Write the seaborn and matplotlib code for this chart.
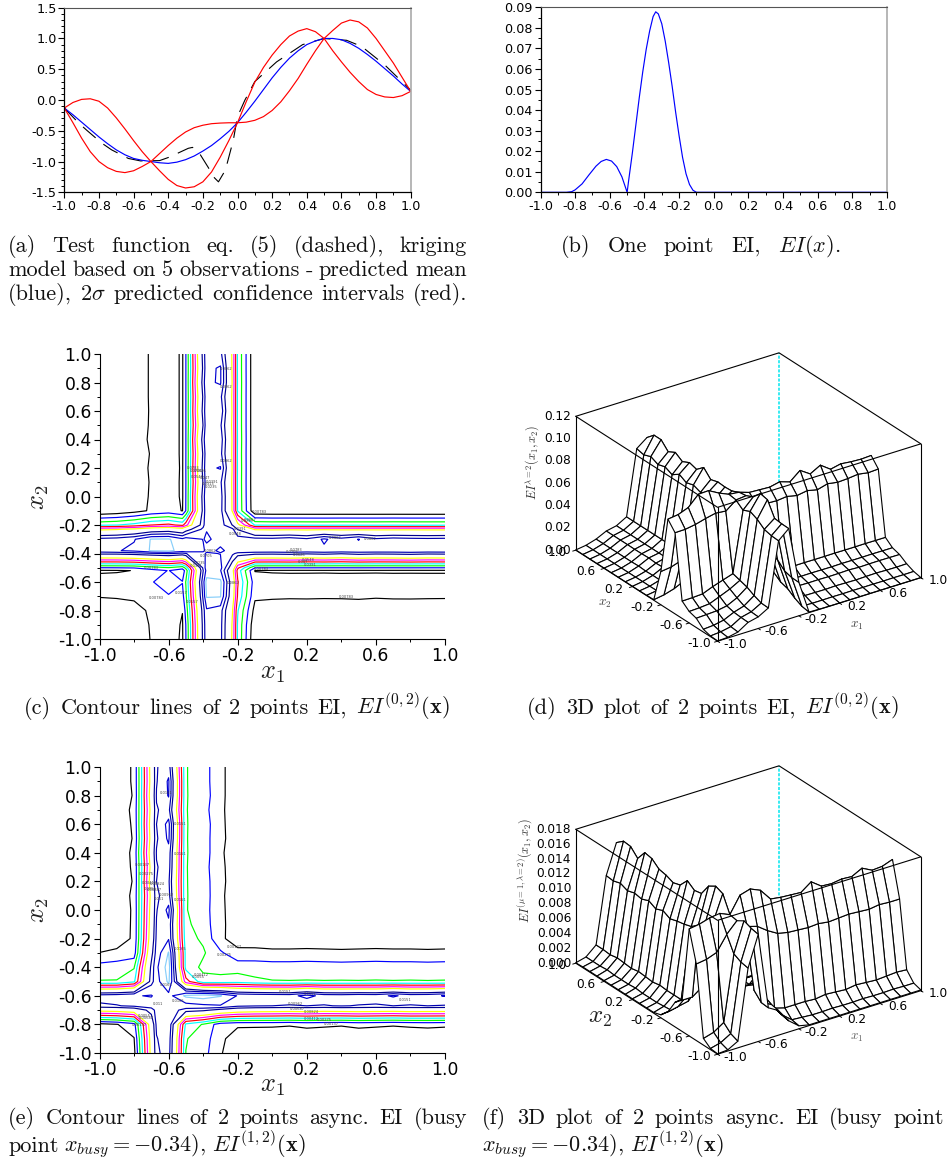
import numpy as np
import matplotlib
matplotlib.use('Agg')
import matplotlib.pyplot as plt
from mpl_toolkits.mplot3d import proj3d
import seaborn as sns

sns.set_theme(style='ticks')
plt.rcParams['font.family'] = ['DejaVu Sans']
plt.rcParams['mathtext.fontset'] = 'cm'

W, H = 949, 1164

# panel (a)
x_a = [-1.0, -0.95, -0.9, -0.85, -0.8, -0.75, -0.7, -0.65, -0.6, -0.55, -0.5, -0.45, -0.4, -0.35,
       -0.3, -0.25, -0.2, -0.15, -0.1, -0.05, 0.0, 0.05, 0.1, 0.15, 0.2, 0.25, 0.3, 0.35, 0.4, 0.45,
       0.5, 0.55, 0.6, 0.65, 0.7, 0.75, 0.8, 0.85, 0.9, 0.95, 1.0]
mean_a = [-0.13, -0.24, -0.36, -0.48, -0.60, -0.71, -0.81, -0.89, -0.95, -0.98, -1.0, -1.02, -1.03, -1.01,
          -0.97, -0.91, -0.83, -0.74, -0.63, -0.51, -0.37, -0.20, -0.02, 0.17, 0.36, 0.53, 0.68, 0.80, 0.90, 0.96,
          1.0, 1.0, 0.98, 0.92, 0.84, 0.74, 0.63, 0.51, 0.39, 0.26, 0.14]
upper_a = [-0.13, -0.04, 0.01, 0.02, -0.02, -0.13, -0.29, -0.47, -0.66, -0.84, -1.0, -0.87, -0.74, -0.62,
           -0.52, -0.45, -0.41, -0.385, -0.375, -0.37, -0.37, -0.03, 0.29, 0.53, 0.73, 0.90, 1.04, 1.12, 1.16, 1.11,
           1.0, 1.13, 1.25, 1.30, 1.27, 1.17, 1.0, 0.80, 0.60, 0.37, 0.14]
lower_a = [-0.13, -0.37, -0.62, -0.84, -1.0, -1.10, -1.16, -1.18, -1.15, -1.08, -1.0, -1.15, -1.29, -1.39,
           -1.43, -1.41, -1.33, -1.17, -0.93, -0.66, -0.37, -0.36, -0.33, -0.27, -0.17, -0.03, 0.15, 0.35, 0.58, 0.80,
           1.0, 0.80, 0.62, 0.45, 0.30, 0.17, 0.09, 0.05, 0.04, 0.07, 0.14]
x_test = [-1.0, -0.915, -0.867, -0.784, -0.727, -0.63, -0.56, -0.45, -0.395, -0.284, -0.26, -0.23, -0.168, -0.14,
          -0.11, -0.07, -0.024, 0.0, 0.043, 0.1, 0.226, 0.376, 0.5, 0.63, 0.717, 0.85, 1.0]
test_a = [-0.13, -0.38, -0.50, -0.70, -0.81, -0.95, -0.99, -0.985, -0.93, -0.785, -0.77, -0.82, -1.10, -1.245,
          -1.33, -1.14, -0.65, -0.27, 0.0, 0.30, 0.62, 0.90, 1.0, 0.97, 0.87, 0.57, 0.16]

# panel (b)
x_b = [-1.0, -0.9, -0.85, -0.82, -0.8, -0.76, -0.72, -0.68, -0.65, -0.62, -0.59, -0.56, -0.53, -0.51, -0.5,
       -0.49, -0.47, -0.45, -0.43, -0.41, -0.39, -0.37, -0.35, -0.335, -0.32, -0.3, -0.28, -0.26, -0.24, -0.22,
       -0.2, -0.18, -0.16, -0.14, -0.12, -0.1, 0.0, 0.5, 1.0]
ei_b = [0.0, 0.0, 0.0, 0.0003, 0.0012, 0.0041, 0.0085, 0.0127, 0.0150, 0.0160, 0.0152, 0.0125, 0.0075, 0.0025, 0.0,
        0.0065, 0.0190, 0.0325, 0.0460, 0.0585, 0.0695, 0.0785, 0.0855, 0.0878, 0.0868, 0.0820, 0.0735, 0.0630, 0.0515, 0.0390,
        0.0275, 0.0170, 0.0090, 0.0038, 0.0010, 0.0, 0.0, 0.0, 0.0]

tick_1d = [-1.0, -0.8, -0.6, -0.4, -0.2, 0.0, 0.2, 0.4, 0.6, 0.8, 1.0]
tick_1d_labels = ['-1.0', '-0.8', '-0.6', '-0.4', '-0.2', '0.0', '0.2', '0.4', '0.6', '0.8', '1.0']
minor_1d = [-0.9, -0.7, -0.5, -0.3, -0.1, 0.1, 0.3, 0.5, 0.7, 0.9]
ytick_a = [-1.5, -1.0, -0.5, 0.0, 0.5, 1.0, 1.5]
ytick_a_labels = ['-1.5', '-1.0', '-0.5', '0.0', '0.5', '1.0', '1.5']
yminor_a = [-1.4, -1.3, -1.2, -1.1, -0.9, -0.8, -0.7, -0.6, -0.4, -0.3, -0.2, -0.1,
            0.1, 0.2, 0.3, 0.4, 0.6, 0.7, 0.8, 0.9, 1.1, 1.2, 1.3, 1.4]
ytick_b = [0.0, 0.01, 0.02, 0.03, 0.04, 0.05, 0.06, 0.07, 0.08, 0.09]
ytick_b_labels = ['0.00', '0.01', '0.02', '0.03', '0.04', '0.05', '0.06', '0.07', '0.08', '0.09']
yminor_b = [0.005, 0.015, 0.025, 0.035, 0.045, 0.055, 0.065, 0.075, 0.085]

# panels (c) and (d): EI on the grid, in units of 0.001, rows from x2=-1 up to x2=1
nodes_c = [-1.0, -0.9, -0.8, -0.7, -0.6, -0.52, -0.5, -0.4, -0.38, -0.3, -0.23, -0.2,
           -0.1, 0.0, 0.1, 0.2, 0.3, 0.4, 0.5, 0.6, 0.7, 0.8, 0.9, 1.0]
levels_c = [7.83, 15.7, 23.5, 31.3, 39.1, 47.0, 54.8, 62.6, 70.5, 78.3, 86.2, 94.0]
grid_c = [
    [0.2, 0.6, 2.5, 8.3, 10.4, 7.0, 15.6, 73, 84, 81, 53, 30, 0.5, 0.2, 0.1, 0.1, 0.1, 0.1, 0.1, 0.1, 0.1, 0.1, 0.1, 0.1],
    [0.6, 1.4, 3.2, 8.6, 10.8, 7.2, 15.9, 73.4, 84.3, 81.2, 53.4, 30.2, 1.6, 1.4, 1.4, 1.5, 1.4, 1.5, 1.4, 1.5, 1.4, 1.5, 1.4, 1.5],
    [2.5, 3.2, 5.0, 9.2, 12.0, 8.0, 18.5, 75, 85, 82, 55, 32, 4.8, 4.3, 4.2, 4.1, 4.4, 4.2, 4.0, 4.3, 4.5, 4.2, 4.1, 4.3],
    [8.3, 8.7, 9.2, 10.8, 15.2, 13, 22, 80, 94.8, 94.6, 61, 38, 9.2, 8.8, 8.6, 8.7, 8.5, 8.6, 8.9, 8.4, 8.6, 8.7, 8.6, 8.5],
    [10.3, 10.7, 11.5, 15.2, 19, 16, 24, 83, 97, 96, 63, 40, 11.2, 10.7, 10.5, 10.6, 10.5, 10.4, 10.6, 10.5, 10.5, 10.6, 10.5, 10.5],
    [7.0, 7.2, 8.0, 12.5, 16, 11, 19, 78, 89, 87, 58, 36, 7.5, 7.1, 7.0, 7.0, 7.1, 7.0, 7.0, 7.1, 7.0, 7.0, 7.0, 7.0],
    [15.6, 15.8, 16.3, 20, 23, 19, 26, 80, 91, 89, 63, 41, 16, 15.8, 15.8, 15.9, 15.8, 15.8, 15.9, 15.8, 15.8, 15.9, 15.8, 15.8],
    [72.8, 73, 74.5, 77, 79, 76, 78, 85, 87, 86, 80, 76, 73.5, 73, 74, 72, 73.5, 71.5, 74, 72.5, 73, 74, 72.5, 73],
    [83.8, 85.5, 88.2, 94.8, 96, 91, 92, 87, 85, 86.8, 85, 84.5, 84.2, 84, 84.3, 83.8, 84.5, 84, 83.6, 84.2, 83.9, 84.4, 84, 84],
    [80.8, 82, 85.5, 94.6, 95, 88, 90, 86, 86.8, 85, 84, 82, 81.5, 81, 83, 80, 87.5, 81.5, 86.5, 80, 82, 81, 80.5, 81],
    [52.8, 54, 57, 62, 64, 60, 66, 80, 86, 84, 80, 70, 53.5, 53, 53.2, 52.9, 53.3, 53, 52.8, 53.1, 53, 53.2, 53, 53],
    [29.8, 31, 34, 39, 41, 37, 44, 76, 84.5, 82, 70, 58, 30.5, 30, 30.2, 30, 29.9, 30.1, 30, 30, 30.2, 30, 30, 30],
    [0.5, 2.0, 4.7, 9.0, 11, 7.5, 16, 73.5, 84.2, 81.5, 53.5, 30.5, 1.0, 0.6, 0.5, 0.5, 0.5, 0.5, 0.5, 0.5, 0.5, 0.5, 0.5, 0.5],
    [0.3, 1.6, 4.3, 8.6, 10.6, 7.0, 15.8, 75, 84.4, 82, 53.2, 30.2, 0.6, 0.3, 0.2, 0.2, 0.2, 0.2, 0.2, 0.2, 0.2, 0.2, 0.2, 0.2],
    [0.2, 1.5, 4.2, 8.4, 10.5, 7.0, 15.7, 71.5, 84, 80, 53, 30, 0.5, 0.2, 0.1, 0.1, 0.1, 0.1, 0.1, 0.1, 0.1, 0.1, 0.1, 0.1],
    [0.2, 1.6, 4.3, 8.7, 10.6, 7.1, 15.8, 74, 84.5, 86.8, 53.5, 30.2, 0.5, 0.2, 0.1, 0.1, 0.1, 0.1, 0.1, 0.1, 0.1, 0.1, 0.1, 0.1],
    [0.2, 1.5, 4.0, 8.3, 10.5, 7.0, 15.7, 72, 84, 81, 53, 30, 0.5, 0.2, 0.1, 0.1, 0.1, 0.1, 0.1, 0.1, 0.1, 0.1, 0.1, 0.1],
    [0.2, 1.5, 4.5, 8.9, 10.5, 7.0, 15.7, 75.5, 84.3, 83, 53.4, 30.3, 0.5, 0.2, 0.1, 0.1, 0.1, 0.1, 0.1, 0.1, 0.1, 0.1, 0.1, 0.1],
    [0.2, 1.5, 4.2, 8.6, 10.5, 7.0, 15.7, 71, 84, 79.8, 52.8, 30, 0.5, 0.2, 0.1, 0.1, 0.1, 0.1, 0.1, 0.1, 0.1, 0.1, 0.1, 0.1],
    [0.2, 1.5, 4.2, 8.5, 10.5, 7.0, 15.7, 74, 84, 84, 53.3, 30, 0.5, 0.2, 0.1, 0.1, 0.1, 0.1, 0.1, 0.1, 0.1, 0.1, 0.1, 0.1],
    [0.2, 1.5, 4.2, 8.6, 10.5, 7.0, 15.7, 72, 84, 80.5, 53, 30, 0.5, 0.2, 0.1, 0.1, 0.1, 0.1, 0.1, 0.1, 0.1, 0.1, 0.1, 0.1],
    [0.2, 1.5, 4.2, 8.6, 10.5, 7.0, 15.7, 75, 84.5, 87.2, 53.5, 30.2, 0.5, 0.2, 0.1, 0.1, 0.1, 0.1, 0.1, 0.1, 0.1, 0.1, 0.1, 0.1],
    [0.2, 1.5, 4.2, 8.6, 10.5, 7.0, 15.7, 72.5, 84, 87.2, 53, 30, 0.5, 0.2, 0.1, 0.1, 0.1, 0.1, 0.1, 0.1, 0.1, 0.1, 0.1, 0.1],
    [0.2, 1.5, 4.2, 8.6, 10.5, 7.0, 15.7, 74, 84, 81, 53, 30, 0.5, 0.2, 0.1, 0.1, 0.1, 0.1, 0.1, 0.1, 0.1, 0.1, 0.1, 0.1],
]
labels_c = [('0.0862', -0.302, 0.897), ('0.0862', -0.302, 0.771), ('0.0862', -0.302, 0.248), ('0.0783', -0.495, 0.203),
            ('0.0705', -0.479, 0.182), ('0.0626', -0.456, 0.18), ('0.0548', -0.47, 0.14), ('0.047', -0.418, 0.133),
            ('0.0391', -0.383, 0.105), ('0.0313', -0.408, 0.086), ('0.0235', -0.389, 0.07), ('0.00783', -0.119, -0.11),
            ('0.0157', -0.167, -0.164), ('0.0235', -0.185, -0.175), ('0.0391', -0.22, -0.225), ('0.0548', -0.25, -0.26),
            ('0.00783', -0.745, -0.502), ('0.00783', -0.716, -0.713), ('0.00783', 0.383, -0.708), ('0.00783', -0.109, -0.507),
            ('0.0862', 0.325, -0.292), ('0.0862', 0.527, -0.299), ('0.0862', -0.263, -0.607), ('0.0783', 0.103, -0.374),
            ('0.0705', 0.08, -0.39), ('0.0626', 0.12, -0.41), ('0.0548', 0.171, -0.444), ('0.047', 0.15, -0.46),
            ('0.0391', 0.18, -0.479), ('0.0862', -0.398, -0.385), ('0.0705', -0.42, -0.42), ('0.0391', -0.475, -0.49),
            ('0.0235', -0.46, -0.47), ('0.0157', -0.562, -0.675), ('0.0157', -0.5, -0.74)]

# panels (e) and (f): EI on the grid, in units of 0.001, rows from x2=-1 up to x2=1
nodes_e = [-1.0, -0.9, -0.8, -0.7, -0.67, -0.6, -0.5, -0.4, -0.3, -0.2, -0.1,
           0.0, 0.1, 0.2, 0.3, 0.4, 0.5, 0.6, 0.7, 0.8, 0.9, 1.0]
levels_e = [1.37, 2.75, 4.12, 5.5, 6.87, 8.24, 9.62, 11.0, 12.4, 13.7, 15.1, 16.5]
grid_e = [
    [0.05, 0.15, 0.9, 10.3, 13.4, 14.4, 4.1, 3.3, 1.5, 0.4, 0.1, 0.1, 0.1, 0.1, 0.1, 0.1, 0.1, 0.1, 0.1, 0.1, 0.1, 0.1],
    [0.15, 0.5, 1.3, 10.5, 13.6, 14.6, 4.2, 3.5, 1.7, 0.6, 0.5, 0.4, 0.4, 0.45, 0.4, 0.4, 0.45, 0.4, 0.4, 0.45, 0.4, 0.4],
    [0.9, 1.3, 2.2, 11, 14, 15, 5.2, 4.0, 2.0, 1.6, 1.6, 1.6, 1.5, 1.7, 1.6, 1.5, 1.7, 1.6, 1.5, 1.6, 1.7, 1.6],
    [10.3, 10.5, 11, 13, 14.2, 14.4, 13.2, 12.8, 11.8, 11, 10.7, 10.6, 10.5, 10.6, 10.4, 10.5, 10.6, 10.5, 10.4, 10.6, 10.5, 10.5],
    [13.4, 13.6, 14, 14.4, 14.6, 14.7, 14.5, 14.8, 15.0, 14, 13.8, 13.7, 13.6, 13.7, 13.6, 13.8, 13.6, 13.5, 13.7, 13.6, 13.7, 13.6],
    [14.4, 14.6, 15, 15.2, 14.7, 14.6, 16.8, 17.2, 16.6, 15, 14.8, 14.7, 14.6, 15.6, 14.6, 14.5, 14.7, 14.6, 15.3, 14.6, 14.7, 15.2],
    [4.2, 4.2, 5.2, 13.2, 14.5, 16.8, 7.5, 4.6, 4.6, 4.8, 4.4, 4.2, 4.18, 4.2, 4.18, 4.2, 4.18, 4.2, 4.18, 4.2, 4.18, 4.2],
    [3.3, 3.5, 4.0, 12.8, 14.8, 17.2, 5.0, 3.8, 3.6, 3.6, 3.5, 3.4, 3.4, 3.45, 3.4, 3.35, 3.4, 3.45, 3.4, 3.4, 3.35, 3.4],
    [1.4, 1.7, 2.0, 11.8, 14.3, 16.6, 5.0, 4.3, 3.0, 1.7, 1.8, 1.7, 1.7, 1.75, 1.7, 1.65, 1.7, 1.75, 1.7, 1.7, 1.65, 1.7],
    [0.4, 0.6, 1.6, 11, 14, 15, 4.6, 3.9, 1.6, 0.8, 0.6, 0.5, 0.5, 0.5, 0.5, 0.5, 0.5, 0.5, 0.5, 0.5, 0.5, 0.5],
    [0.1, 0.5, 1.6, 10.7, 13.8, 14.8, 4.4, 3.5, 1.7, 0.6, 0.4, 0.3, 0.3, 0.3, 0.3, 0.3, 0.3, 0.3, 0.3, 0.3, 0.3, 0.3],
    [0.1, 0.4, 1.6, 10.5, 13.6, 15.5, 4.2, 3.4, 1.7, 0.5, 0.3, 0.2, 0.2, 0.2, 0.2, 0.2, 0.2, 0.2, 0.2, 0.2, 0.2, 0.2],
    [0.1, 0.4, 1.7, 10.2, 13.5, 14.3, 4.2, 3.5, 1.65, 0.5, 0.3, 0.2, 0.2, 0.2, 0.2, 0.2, 0.2, 0.2, 0.2, 0.2, 0.2, 0.2],
    [0.1, 0.4, 1.5, 10.7, 13.7, 14.0, 4.2, 3.4, 1.75, 0.5, 0.3, 0.2, 0.2, 0.2, 0.2, 0.2, 0.2, 0.2, 0.2, 0.2, 0.2, 0.2],
    [0.1, 0.5, 1.6, 10.3, 13.6, 14.4, 4.2, 3.3, 1.7, 0.5, 0.3, 0.2, 0.2, 0.2, 0.2, 0.2, 0.2, 0.2, 0.2, 0.2, 0.2, 0.2],
    [0.1, 0.4, 1.7, 10.8, 13.8, 14.6, 4.2, 3.5, 1.6, 0.5, 0.3, 0.2, 0.2, 0.2, 0.2, 0.2, 0.2, 0.2, 0.2, 0.2, 0.2, 0.2],
    [0.1, 0.4, 1.5, 10.4, 13.5, 15.4, 4.2, 3.4, 1.75, 0.5, 0.3, 0.2, 0.2, 0.2, 0.2, 0.2, 0.2, 0.2, 0.2, 0.2, 0.2, 0.2],
    [0.1, 0.4, 1.6, 10.6, 13.7, 15.6, 4.2, 3.5, 1.7, 0.5, 0.3, 0.2, 0.2, 0.2, 0.2, 0.2, 0.2, 0.2, 0.2, 0.2, 0.2, 0.2],
    [0.1, 0.5, 1.7, 10.3, 13.6, 14.2, 4.2, 3.3, 1.65, 0.5, 0.3, 0.2, 0.2, 0.2, 0.2, 0.2, 0.2, 0.2, 0.2, 0.2, 0.2, 0.2],
    [0.1, 0.4, 1.5, 10.7, 13.8, 15.2, 4.2, 3.5, 1.7, 0.5, 0.3, 0.2, 0.2, 0.2, 0.2, 0.2, 0.2, 0.2, 0.2, 0.2, 0.2, 0.2],
    [0.1, 0.4, 1.6, 10.4, 13.6, 15.3, 4.2, 3.4, 1.7, 0.5, 0.3, 0.2, 0.2, 0.2, 0.2, 0.2, 0.2, 0.2, 0.2, 0.2, 0.2, 0.2],
    [0.05, 0.4, 1.6, 10.5, 13.6, 14.5, 4.2, 3.4, 1.7, 0.5, 0.3, 0.2, 0.2, 0.2, 0.2, 0.2, 0.2, 0.2, 0.2, 0.2, 0.2, 0.2],
]
labels_e = [('0.0151', -0.649, 0.816), ('0.0151', -0.572, 0.599), ('0.0151', -0.572, 0.391), ('0.0151', -0.572, 0.073),
            ('0.00137', -0.794, 0.314), ('0.00275', -0.774, 0.255), ('0.00412', -0.755, 0.186), ('0.00824', -0.707, 0.179),
            ('0.0055', -0.745, 0.144), ('0.00687', -0.726, 0.139), ('0.00962', -0.659, 0.108), ('0.011', -0.688, 0.076),
            ('0.00137', -0.263, -0.258), ('0.00275', -0.321, -0.312), ('0.0165', -0.572, -0.27), ('0.0165', -0.653, -0.526),
            ('0.00412', -0.456, -0.452), ('0.0055', -0.466, -0.468), ('0.0165', -0.581, -0.636), ('0.0151', 0.036, -0.573),
            ('0.0151', 0.18, -0.585), ('0.0151', 0.731, -0.627), ('0.00137', -0.813, -0.806), ('0.00137', 0.296, -0.795),
            ('0.011', -0.69, -0.66), ('0.00962', 0.09, -0.655), ('0.00824', 0.18, -0.71), ('0.00687', 0.1, -0.69),
            ('0.00412', 0.18, -0.76), ('0.00275', 0.26, -0.77), ('0.0055', -0.78, -0.74), ('0.00687', -0.77, -0.755)]

level_colors = ['#000000', '#0000ff', '#00ff00', '#00ffff', '#ff0000', '#ff00ff', '#ffff00',
                '#ffffff', '#00008f', '#0000b0', '#0000d1', '#87cefa']
tick_2d = [-1.0, -0.6, -0.2, 0.2, 0.6, 1.0]
tick_2d_labels = ['-1.0', '-0.6', '-0.2', '0.2', '0.6', '1.0']
ytick_2d = [-1.0, -0.8, -0.6, -0.4, -0.2, 0.0, 0.2, 0.4, 0.6, 0.8, 1.0]
ytick_2d_labels = ['-1.0', '-0.8', '-0.6', '-0.4', '-0.2', '0.0', '0.2', '0.4', '0.6', '0.8', '1.0']
xminor_2d = [-0.8, -0.4, 0.0, 0.4, 0.8]
yminor_2d = [-0.9, -0.7, -0.5, -0.3, -0.1, 0.1, 0.3, 0.5, 0.7, 0.9]
ztick_d = [0.0, 0.02, 0.04, 0.06, 0.08, 0.10, 0.12]
ztick_d_labels = ['0.00', '0.02', '0.04', '0.06', '0.08', '0.10', '0.12']
ztick_f = [0.0, 0.002, 0.004, 0.006, 0.008, 0.010, 0.012, 0.014, 0.016, 0.018]
ztick_f_labels = ['0.000', '0.002', '0.004', '0.006', '0.008', '0.010', '0.012', '0.014', '0.016', '0.018']

fig = plt.figure(figsize=(W / 100, H / 100), dpi=100, facecolor='white')


def px_axes(left, top, right, bottom, **kw):
    return fig.add_axes([left / W, 1 - bottom / H, (right - left) / W, (bottom - top) / H], **kw)


def put(x, y, s, **kw):
    return fig.text(x / W, 1 - y / H, s, **kw)


def style_1d(ax, ylim, yticks, ylabels, yminor):
    ax.set_xlim(-1, 1)
    ax.set_ylim(*ylim)
    ax.set_xticks(tick_1d, tick_1d_labels)
    ax.set_xticks(minor_1d, minor=True)
    ax.set_yticks(yticks, ylabels)
    ax.set_yticks(yminor, minor=True)
    ax.set_xlabel('')
    ax.set_ylabel('')
    ax.tick_params(which='major', labelsize=9.2, length=4, width=0.8, pad=1.5, colors='black')
    ax.tick_params(which='minor', length=2.2, width=0.7, colors='black')
    for side in ['left', 'bottom']:
        ax.spines[side].set_color('black')
        ax.spines[side].set_linewidth(0.9)
    ax.spines['top'].set_color('#555555')
    ax.spines['top'].set_linewidth(0.8)
    ax.spines['right'].set_color('#aaaaaa')
    ax.spines['right'].set_linewidth(1.2)


# (a)
ax_a = px_axes(64.3, 7.7, 410.7, 192.3)
sns.lineplot(x=x_test, y=test_a, color='black', linewidth=0.8, linestyle=(0, (15, 9)), sort=False, errorbar=None, ax=ax_a)
sns.lineplot(x=x_a, y=mean_a, color='#0000ff', linewidth=0.85, errorbar=None, ax=ax_a)
sns.lineplot(x=x_a, y=upper_a, color='#ff0000', linewidth=0.85, errorbar=None, ax=ax_a)
sns.lineplot(x=x_a, y=lower_a, color='#ff0000', linewidth=0.85, errorbar=None, ax=ax_a)
style_1d(ax_a, (-1.5, 1.5), ytick_a, ytick_a_labels, yminor_a)

# (b)
ax_b = px_axes(540.5, 7.3, 887, 192.3)
sns.lineplot(x=x_b, y=ei_b, color='#0000ff', linewidth=0.85, errorbar=None, ax=ax_b)
style_1d(ax_b, (0, 0.09), ytick_b, ytick_b_labels, yminor_b)


def contour_panel(top, bottom, nodes, grid, levels, labels):
    ax = px_axes(99.5, top, 445, bottom)
    ax.contour(nodes, nodes, np.array(grid), levels=levels, colors=level_colors, linewidths=0.85)
    for txt, x, y in labels:
        ax.text(x, y, txt, fontsize=2.6, color='#444444', va='center', ha='left')
    ax.set_xlim(-1, 1)
    ax.set_ylim(-1, 1)
    ax.set_xticks(tick_2d, tick_2d_labels)
    ax.set_xticks(xminor_2d, minor=True)
    ax.set_yticks(ytick_2d, ytick_2d_labels)
    ax.set_yticks(yminor_2d, minor=True)
    ax.tick_params(which='major', labelsize=12.4, length=4, width=0.8, pad=1.5, colors='black')
    ax.tick_params(which='minor', length=2.2, width=0.7, colors='black')
    ax.spines['top'].set_visible(False)
    ax.spines['right'].set_visible(False)
    for side in ['left', 'bottom']:
        ax.spines[side].set_color('black')
        ax.spines[side].set_linewidth(0.8)
    return ax


contour_panel(354, 639, nodes_c, grid_c, levels_c, labels_c)
contour_panel(767, 1053, nodes_e, grid_e, levels_e, labels_e)
for yy_x1, yy_x2 in [(672, 497), (1085, 910)]:
    put(272, yy_x1, r'$x_1$', fontsize=19, ha='center', va='center', color='#222222')
    put(38, yy_x2, r'$x_2$', fontsize=19, ha='center', va='center', rotation=90, color='#222222')


def surface_panel(cx, cy, nodes, grid, scale, z_ticks, z_labels):
    side = 370
    left = cx - 0.5135 * side
    top = cy - 0.4865 * side
    ax = px_axes(left, top, left + side, top + side, projection='3d', proj_type='ortho', computed_zorder=False)
    ax.view_init(elev=26.6, azim=-124.9)
    ax.set_box_aspect((1, 1, 0.604))
    nodes = np.array(nodes)
    keep = np.isclose(nodes * 10, np.round(nodes * 10))
    xx, yy = np.meshgrid(nodes[keep], nodes[keep])
    zz = np.array(grid)[np.ix_(keep, keep)] * scale
    z_top = z_ticks[-1]
    ax.set_xlim(-1, 1)
    ax.set_ylim(-1, 1)
    ax.set_zlim(0, z_top)
    ax.set_xticks([])
    ax.set_yticks([])
    ax.set_zticks([])
    ax.set_axis_off()
    ax.plot([1, 1], [1, 1], [0, z_top], color='#00e5ee', lw=1.1, ls=(0, (2, 1)), zorder=1)
    ax.plot_surface(xx, yy, zz, color='white', edgecolor='black', linewidth=0.8, shade=False,
                    rstride=1, cstride=1, zorder=2, antialiased=True)
    frame = [([-1, 1, 1], [1, 1, -1], [z_top] * 3), ([-1, -1, 1], [1, -1, -1], [z_top] * 3),
             ([-1, -1, 1], [1, -1, -1], [0] * 3), ([-1, -1], [1, 1], [0, z_top]),
             ([1, 1], [-1, -1], [0, z_top]), ([-1, -1], [-1, -1], [0, z_top])]
    for fx, fy, fz in frame:
        ax.plot(fx, fy, fz, color='black', lw=0.8, zorder=3)

    # tick labels go through the 3D projection, then sit as plain 2D text
    proj = ax.get_proj()

    def tick_text(x, y, z, lab, ha):
        sx, sy, _ = proj3d.proj_transform(x, y, z, proj)
        ax.text2D(sx, sy, lab, transform=ax.transData, fontsize=8.7, ha=ha, va='center', color='black', zorder=4)

    for v, lab in zip(tick_2d, tick_2d_labels):
        ax.plot([v, v], [-1, -1.03], [0, 0], color='black', lw=0.7, zorder=3)
        ax.plot([-1, -1.03], [v, v], [0, 0], color='black', lw=0.7, zorder=3)
        tick_text(v + 0.083, -1.13, 0, lab, 'center')
        tick_text(-1.149, v + 0.045, 0, lab, 'center')
    for v, lab in zip(z_ticks, z_labels):
        tick_text(-1.031, 1.021, v, lab, 'right')
    return ax


surface_panel(748.3, 497, nodes_c, grid_c, 0.001, ztick_d, ztick_d_labels)
surface_panel(748.3, 910, nodes_e, grid_e, 0.001, ztick_f, ztick_f_labels)

put(857, 625, r'$x_1$', fontsize=9.5, ha='center', va='center', color='#444444')
put(605, 604, r'$x_2$', fontsize=9.5, ha='center', va='center', color='#444444')
put(533, 462, r'$EI^{\lambda=2}(x_1,x_2)$', fontsize=8.8, rotation=90, ha='center', va='center', color='#333333')
put(857, 1038, r'$x_1$', fontsize=9.5, ha='center', va='center', color='#666666')
put(600, 1017, r'$x_2$', fontsize=18, ha='center', va='center', color='#222222')
put(525, 870, r'$EI^{(\mu=1,\lambda=2)}(x_1,x_2)$', fontsize=8.8, rotation=90, ha='center', va='center', color='#333333')

cap_font = dict(family='cmr10', fontsize=16.0, color='#111111', va='baseline')


def cap_line(x0, x1, y, words):
    # stretch the gaps so a line fills its column, like the justified text of the paper
    renderer = fig.canvas.get_renderer()
    pieces = [put(x0, y, w, **cap_font) for w in words]
    widths = [p.get_window_extent(renderer).width for p in pieces]
    gap = 6 if x1 is None else (x1 - x0 - sum(widths)) / max(len(words) - 1, 1)
    pos = x0
    for p, w in zip(pieces, widths):
        p.set_x(pos / W)
        pos += w + gap


cap_line(8, 467, 251.5, ['(a)', 'Test', 'function', 'eq.', '(5)', '(dashed),', 'kriging'])
cap_line(8, 467, 276.5, ['model', 'based', 'on', '5', 'observations', '-', 'predicted', 'mean'])
cap_line(8, 467, 300.5, ['(blue),', r'$2\sigma$', 'predicted', 'confidence', 'intervals', '(red).'])
cap_line(561, 840, 251.5, ['(b)', 'One', 'point', 'EI,', r'$EI(x)$.'])
cap_line(24, 450, 714, ['(c)', 'Contour', 'lines', 'of', '2', 'points', 'EI,', r'$EI^{(0,2)}(\mathbf{x})$'])
cap_line(527, 899, 714, ['(d)', '3D', 'plot', 'of', '2', 'points', 'EI,', r'$EI^{(0,2)}(\mathbf{x})$'])
cap_line(8, 467, 1123.5, ['(e)', 'Contour', 'lines', 'of', '2', 'points', 'async.', 'EI', '(busy'])
cap_line(8, None, 1151.5, ['point', r'$x_{busy}=-0.34$),', r'$EI^{(1,2)}(\mathbf{x})$'])
cap_line(482, 944, 1123.5, ['(f)', '3D', 'plot', 'of', '2', 'points', 'async.', 'EI', '(busy', 'point'])
cap_line(482, None, 1151.5, [r'$x_{busy}=-0.34$),', r'$EI^{(1,2)}(\mathbf{x})$'])

fig.savefig('out.png', dpi=100)
